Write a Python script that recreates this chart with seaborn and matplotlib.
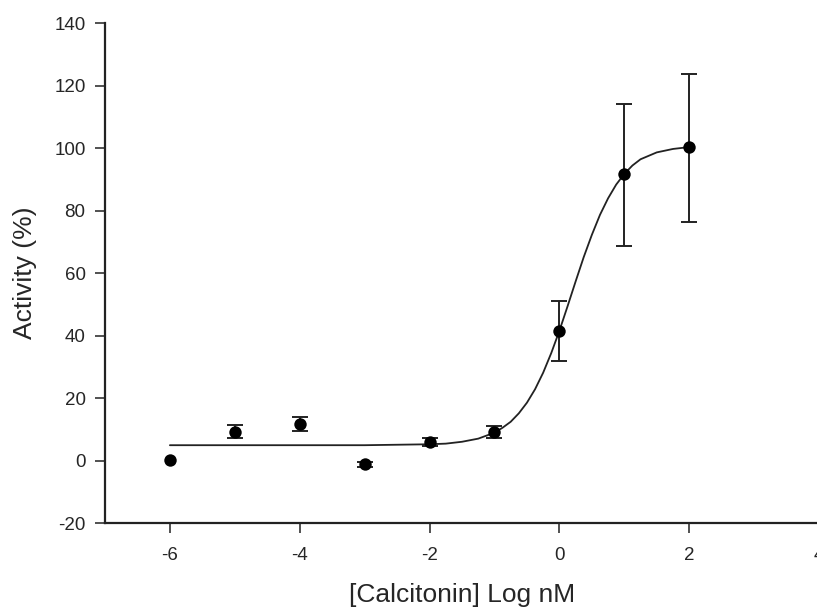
import pandas as pd
import matplotlib
matplotlib.use("Agg")
import matplotlib.pyplot as plt
import seaborn as sns

# measured points (log nM vs % activity) with error bars
log_conc = [-6, -5, -4, -3, -2, -1, 0, 1, 2]
activity = [0.2, 9.2, 11.6, -1.2, 6.0, 9.2, 41.5, 91.7, 100.2]
err_low = [0.0, 2.1, 2.3, 0.8, 1.2, 1.9, 9.7, 23.1, 23.8]
err_high = [0.0, 2.1, 2.3, 0.8, 1.2, 1.9, 9.5, 22.5, 23.5]

# fitted curve
curve_x = [-6, -5, -4, -3, -2, -1.75, -1.5, -1.25, -1, -0.875, -0.75, -0.625,
           -0.5, -0.375, -0.25, -0.125, 0, 0.125, 0.25, 0.375, 0.5, 0.625,
           0.75, 0.875, 1, 1.125, 1.25, 1.5, 1.75, 2]
curve_y = [4.9, 4.9, 4.9, 4.9, 5.2, 5.4, 6.0, 7.0, 8.9, 10.5, 12.4, 15.1,
           18.5, 22.8, 28.1, 34.4, 41.5, 49.3, 57.3, 65.1, 72.2, 78.6,
           83.9, 88.3, 91.7, 94.4, 96.4, 98.6, 99.7, 100.3]

x_ticks = [-6, -4, -2, 0, 2, 4]
y_ticks = [-20, 0, 20, 40, 60, 80, 100, 120, 140]

pts = pd.DataFrame({"x": log_conc, "y": activity, "lo": err_low, "hi": err_high})
fit = pd.DataFrame({"x": curve_x, "y": curve_y})
bars = pts[(pts["lo"] > 0) | (pts["hi"] > 0)]

sns.set_theme(style="ticks")
plt.rcParams["font.family"] = ["Liberation Sans", "DejaVu Sans"]
plt.rcParams["axes.unicode_minus"] = False

fig = plt.figure(figsize=(8.17, 6.12), dpi=100)
ax = fig.add_axes([0.1285, 0.1454, 0.874, 0.817])

sns.lineplot(data=fit, x="x", y="y", ax=ax, color="#222222", lw=1.3)
ax.errorbar(bars["x"], bars["y"], yerr=[bars["lo"], bars["hi"]], fmt="none",
            ecolor="#222222", elinewidth=1.4, capsize=6, capthick=1.4)
sns.scatterplot(data=pts, x="x", y="y", ax=ax, color="black", s=80,
                edgecolor="black", linewidth=0, zorder=5)

ax.set_xlim(-7, 4)
ax.set_ylim(-20, 140)
ax.set_xticks(x_ticks)
ax.set_yticks(y_ticks)
ax.set_xlabel("[Calcitonin] Log nM", fontsize=19, labelpad=14)
ax.set_ylabel("Activity (%)", fontsize=19, labelpad=12)
ax.tick_params(labelsize=13.5, length=7, width=1.1, color="#222222")
ax.tick_params(axis="x", pad=10)
ax.tick_params(axis="y", pad=7)
for s in ["left", "bottom"]:
    ax.spines[s].set_linewidth(1.6)
    ax.spines[s].set_color("#222222")
sns.despine(ax=ax)

fig.savefig("out.png", dpi=100)
